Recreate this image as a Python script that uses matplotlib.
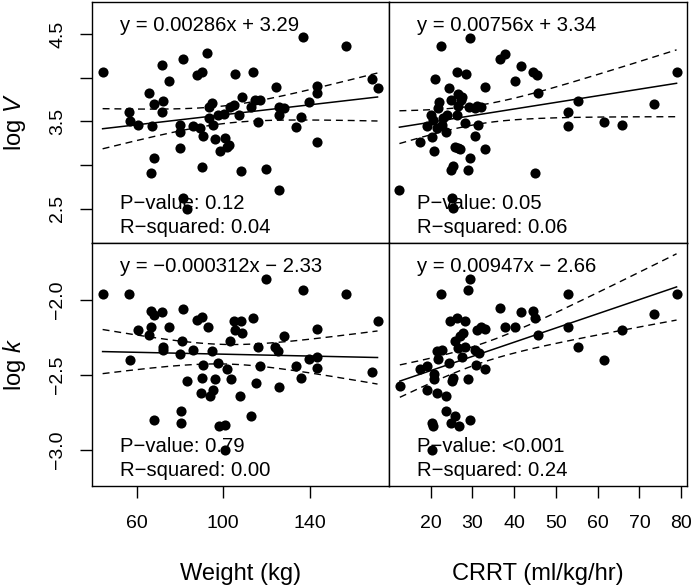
import numpy as np
import matplotlib
matplotlib.use("Agg")
import matplotlib.pyplot as plt

plt.rcParams['font.family'] = ['Liberation Sans', 'DejaVu Sans']
plt.rcParams['mathtext.fontset'] = 'custom'
plt.rcParams['mathtext.rm'] = 'Liberation Sans'
plt.rcParams['mathtext.it'] = 'Liberation Sans:italic'

# --- data ---
# top-left: weight vs log V
wt_v = [44.3, 56.6, 56.9, 60.8, 65.9, 68.0, 66.9, 68.0, 66.6, 71.5, 72.3, 71.9, 74.9,
        81.5, 80.0, 80.0, 80.0, 81.2, 83.4, 85.9, 88.0, 90.0, 92.6, 89.2, 90.8, 90.3,
        93.5, 94.6, 93.5, 95.1, 96.2, 97.7, 98.5, 100.3, 100.8, 101.5, 102.8, 103.1,
        104.9, 105.4, 107.4, 108.8, 108.0, 112.6, 113.5, 114.6, 116.9, 116.2, 119.7,
        124.3, 125.7, 125.8, 128.0, 125.8, 133.8, 135.7, 136.9, 139.4, 143.1, 143.4,
        143.4, 156.6, 168.6, 171.2]
logv_w = [4.06, 3.61, 3.50, 3.46, 3.83, 3.70, 3.45, 3.08, 2.91, 4.14, 3.73, 3.61, 3.96,
          4.21, 3.46, 3.38, 3.20, 2.62, 2.50, 3.45, 4.03, 4.07, 4.28, 3.42, 3.33, 2.98,
          3.66, 3.71, 3.54, 3.46, 3.30, 3.57, 3.16, 3.59, 3.31, 3.21, 3.23, 3.67,
          3.69, 4.04, 3.57, 3.78, 2.93, 3.66, 4.07, 3.75, 3.75, 3.49, 2.96,
          3.89, 3.67, 3.57, 3.65, 2.72, 3.44, 3.55, 4.47, 3.72, 3.90, 3.82,
          3.26, 4.36, 3.99, 3.88]

# top-right: CRRT vs log V
crrt_v = [12.5, 17.4, 19.0, 20.1, 20.6, 20.4, 20.9, 21.0, 21.4, 21.7, 22.0, 22.5, 22.6,
          23.0, 23.6, 23.8, 24.4, 24.9, 24.9, 25.2, 25.3, 25.4, 25.7, 26.5, 26.2, 26.2,
          26.5, 26.6, 27.0, 27.3, 27.6, 28.4, 28.2, 28.9, 29.2, 29.4, 29.4, 30.5, 30.6,
          31.0, 31.3, 32.1, 32.9, 33.0, 36.6, 37.7, 40.1, 41.7, 44.4, 45.0, 45.4, 45.6,
          52.9, 53.0, 55.3, 61.4, 65.8, 73.4, 78.9]
logv_c = [2.72, 3.27, 3.45, 3.57, 3.52, 3.32, 3.16, 3.99, 3.42, 3.65, 3.72, 4.36, 3.46,
          3.54, 3.38, 3.57, 3.88, 3.75, 2.94, 2.63, 2.51, 2.99, 3.21, 3.20, 4.07, 3.57,
          3.68, 3.81, 3.19, 3.75, 3.78, 4.04, 3.48, 2.95, 3.67, 4.46, 3.08, 3.65, 3.33,
          3.68, 3.46, 3.66, 3.89, 3.19, 4.21, 4.27, 3.96, 4.13, 4.07, 2.91, 4.03, 3.83,
          3.61, 3.45, 3.73, 3.49, 3.46, 3.70, 4.06]

# bottom-left: weight vs log k
wt_k = [44.3, 56.6, 56.9, 60.8, 65.9, 66.6, 66.6, 68.0, 71.5, 72.0, 72.3, 74.9, 68.0,
        80.0, 80.8, 81.5, 80.3, 80.3, 83.4, 85.9, 88.0, 90.0, 90.0, 90.8, 89.7, 93.1,
        93.9, 94.6, 95.1, 96.2, 97.7, 98.2, 100.8, 100.8, 101.5, 103.1, 103.4, 104.9,
        105.4, 108.0, 108.8, 107.7, 113.8, 112.6, 115.1, 116.2, 116.9, 119.7, 123.8,
        125.4, 125.8, 128.0, 133.8, 135.7, 136.6, 139.4, 143.1, 143.4, 143.4, 156.6,
        168.6, 171.2]
logk_w = [-1.96, -1.96, -2.40, -2.20, -2.23, -2.18, -2.07, -2.10, -2.08, -2.31, -2.33,
          -2.18, -2.80, -2.36, -2.27, -2.06, -2.74, -2.82, -2.54, -2.33, -2.13, -2.11,
          -2.52, -2.43, -2.62, -2.18, -2.64, -2.34, -2.60, -2.53, -2.42, -2.84, -2.83,
          -3.00, -2.46, -2.27, -2.53, -2.14, -2.20, -2.14, -2.22, -2.64, -2.12, -2.77,
          -2.55, -2.31, -2.44, -1.86, -2.31, -2.34, -2.58, -2.24, -2.44, -2.52, -1.93,
          -2.39, -2.19, -2.38, -2.45, -1.96, -2.48, -2.14]

# bottom-right: CRRT vs log k
crrt_k = [12.6, 17.4, 19.0, 19.0, 20.4, 20.6, 20.4, 20.9, 20.9, 21.4, 21.4, 21.8, 22.6,
          23.6, 23.6, 24.4, 24.6, 24.9, 25.2, 25.4, 25.7, 25.7, 26.2, 26.5, 26.8, 27.0,
          27.4, 27.8, 28.2, 28.2, 29.0, 29.0, 29.4, 29.4, 22.5, 30.5, 30.8, 31.0, 31.6,
          32.1, 32.9, 33.0, 36.6, 37.7, 40.1, 41.7, 44.6, 45.0, 45.6, 52.9, 53.0, 55.3,
          61.4, 65.8, 73.4, 78.9]
logk_c = [-2.57, -2.46, -2.44, -2.60, -2.82, -2.84, -3.00, -2.49, -2.53, -2.34, -2.62,
          -2.39, -2.33, -2.64, -2.74, -2.42, -2.14, -2.82, -2.54, -2.52, -2.27, -2.77,
          -2.12, -2.32, -2.84, -2.24, -2.38, -2.22, -2.14, -2.31, -1.93, -2.53, -2.80,
          -1.86, -1.96, -2.33, -2.43, -2.20, -2.35, -2.18, -2.19, -2.46, -2.05, -2.18,
          -2.18, -2.08, -2.07, -2.12, -2.23, -1.96, -2.18, -2.31, -2.40, -2.20, -2.09,
          -1.96]

slopes = [0.00286, 0.00756, -0.000312, 0.00947]
intercepts = [3.29, 3.34, -2.33, -2.66]
eq_labels = ['y = 0.00286x + 3.29', 'y = 0.00756x + 3.34',
             'y = \u22120.000312x \u2212 2.33', 'y = 0.00947x \u2212 2.66']
p_labels = ['P\u2212value: 0.12', 'P\u2212value: 0.05',
            'P\u2212value: 0.79', 'P\u2212value: <0.001']
r2_labels = ['R\u2212squared: 0.04', 'R\u2212squared: 0.06',
             'R\u2212squared: 0.00', 'R\u2212squared: 0.24']

panels = [(wt_v, logv_w), (crrt_v, logv_c), (wt_k, logk_w), (crrt_k, logk_c)]

fig = plt.figure(figsize=(6.93, 5.87), dpi=100)
W, H = 693.0, 587.0
xl, xm, xr = 92 / W, 389 / W, 687 / W
yt, ym, yb = 1 - 2 / H, 1 - 243 / H, 1 - 486 / H
boxes = [[xl, ym, xm - xl, yt - ym], [xm, ym, xr - xm, yt - ym],
         [xl, yb, xm - xl, ym - yb], [xm, yb, xr - xm, ym - yb]]

xlims = [(39.4, 176.5), (10.0, 81.4)]
ylims = [(2.11, 4.866), (-3.24, -1.62)]

for i, (xs, ys) in enumerate(panels):
    ax = fig.add_axes(boxes[i])
    row, col = i // 2, i % 2
    x = np.array(xs)
    y = np.array(ys)
    ax.plot(x, y, 'o', color='black', ms=7.3, mec='none', zorder=3)

    # fitted line with 95% band for the mean
    b, a = slopes[i], intercepts[i]
    xx = np.linspace(x.min(), x.max(), 200)
    yy = a + b * xx
    n = len(x)
    resid = y - (a + b * x)
    s = np.sqrt(np.sum(resid ** 2) / (n - 2))
    se = s * np.sqrt(1.0 / n + (xx - x.mean()) ** 2 / np.sum((x - x.mean()) ** 2))
    ax.plot(xx, yy, color='black', lw=1.1)
    ax.plot(xx, yy + 2.0 * se, color='black', lw=1.0, ls=(0, (5, 3.5)))
    ax.plot(xx, yy - 2.0 * se, color='black', lw=1.0, ls=(0, (5, 3.5)))

    ax.set_xlim(*xlims[col])
    ax.set_ylim(*ylims[row])
    for sp in ax.spines.values():
        sp.set_linewidth(1.0)

    ax.tick_params(direction='out', length=8.6, width=1.0, labelsize=14,
                   colors='black')
    if col == 0:
        if row == 0:
            ax.set_yticks([2.5, 3.0, 3.5, 4.0, 4.5])
            ax.set_yticklabels(['2.5', '', '3.5', '', '4.5'])
        else:
            ax.set_yticks([-3.0, -2.5, -2.0])
            ax.set_yticklabels(['\u22123.0', '\u22122.5', '\u22122.0'])
        ax.tick_params(axis='y', pad=10)
        for lab in ax.get_yticklabels():
            lab.set_rotation(90)
            lab.set_va('center')
    else:
        ax.set_yticks([])
    if row == 1:
        if col == 0:
            ax.set_xticks([60, 100, 140])
        else:
            ax.set_xticks([20, 30, 40, 50, 60, 70, 80])
        ax.tick_params(axis='x', pad=12)
    else:
        ax.set_xticks([])

    ax.annotate(eq_labels[i], xy=(0, 1), xycoords='axes fraction',
                xytext=(20.2, -20.9), textcoords='offset points',
                ha='left', va='baseline', fontsize=14.6)
    ax.annotate(p_labels[i], xy=(0, 0), xycoords='axes fraction',
                xytext=(20.2, 24.3), textcoords='offset points',
                ha='left', va='baseline', fontsize=14.6)
    ax.annotate(r2_labels[i], xy=(0, 0), xycoords='axes fraction',
                xytext=(20.2, 7.4), textcoords='offset points',
                ha='left', va='baseline', fontsize=14.6)

fig.text((92 + 389) / 2 / W, 1 - 580 / H, 'Weight (kg)', ha='center',
         va='baseline', fontsize=17)
fig.text((389 + 687) / 2 / W, 1 - 580 / H, 'CRRT (ml/kg/hr)', ha='center',
         va='baseline', fontsize=17)
fig.text(15 / W, 1 - 122.5 / H, 'log $V$', rotation=90, ha='center',
         va='center', fontsize=17)
fig.text(15 / W, 1 - 364.5 / H, 'log $k$', rotation=90, ha='center',
         va='center', fontsize=17)

fig.savefig('out.png', dpi=100)
